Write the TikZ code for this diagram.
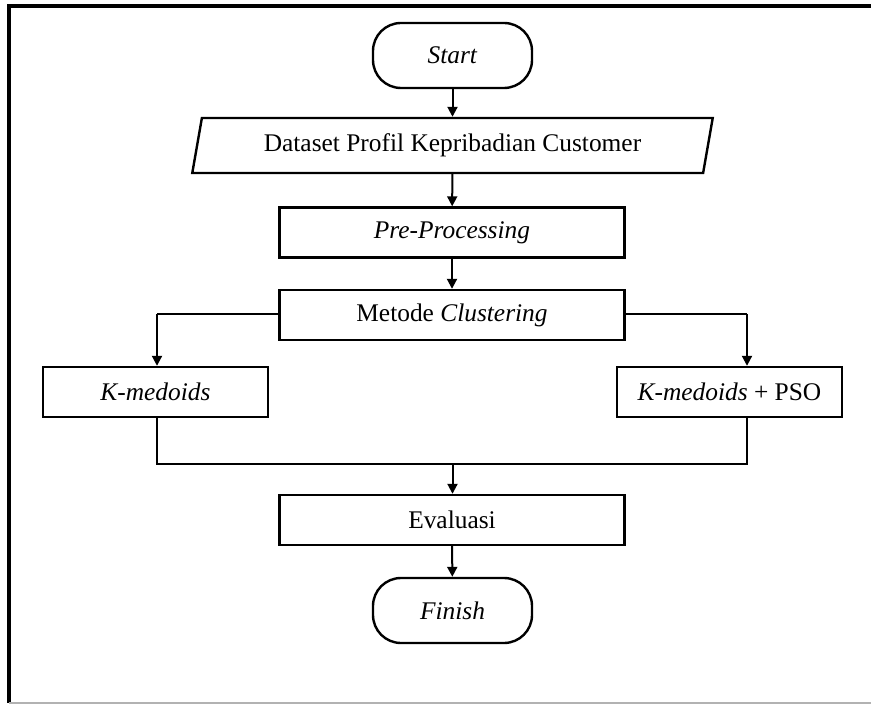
\documentclass[tikz,border=0pt]{standalone}
\usepackage{fontspec}
\setmainfont{Liberation Serif}
\usetikzlibrary{shapes.geometric,arrows.meta}
\begin{document}
\begin{tikzpicture}[x=0.5pt, y=-0.5pt, line width=1pt,
    >={Triangle[length=5pt,width=5pt]},
    font=\fontsize{12.7}{15}\selectfont,
    term/.style={draw, line width=1.2pt, rounded corners=14pt,
      minimum width=79.5pt, minimum height=32.5pt, inner sep=1pt},
    proc/.style={draw, line width=1.2pt, minimum width=172.5pt,
      minimum height=25pt, inner sep=1pt},
    side/.style={proc, minimum width=112.5pt},
    data/.style={draw, line width=1.2pt, trapezium, trapezium stretches,
      trapezium left angle=75, trapezium right angle=105,
      minimum width=261pt, minimum height=27.5pt, inner sep=1pt}]
  \useasboundingbox (0,0) rectangle (871,704);
  % frame
  \draw[line width=1.6pt] (871,6) -- (9,6) -- (9,703);
  \draw[line width=0.8pt, black!30] (9,703) -- (871,703);
  % nodes
  \node[term] (start) at (452.5,55.5) {\textit{Start}};
  \node[data] (dataset) at (452.5,145.5) {Dataset Profil Kepribadian Customer};
  \node[proc] (prepro) at (452,232.5) {\textit{Pre-Processing}};
  \node[proc] (metode) at (452,315) {Metode \textit{Clustering}};
  \node[side] (kmed) at (155.5,392) {\textit{K-medoids}};
  \node[side] (kmpso) at (729.5,392) {\textit{K-medoids} + PSO};
  \node[proc] (eval) at (452,520) {Evaluasi};
  \node[term] (finish) at (452.5,610.5) {\textit{Finish}};
  % branch points
  \coordinate (bl) at (157,314);
  \coordinate (br) at (747,314);
  \coordinate (jl) at (157,464);
  \coordinate (jr) at (747,464);
  \coordinate (jm) at (452.5,464);
  % connectors
  \draw[->] (start) -- (dataset);
  \draw[->] (dataset) -- (prepro);
  \draw[->] (prepro) -- (metode);
  \draw (metode.west |- bl) -- (bl);
  \draw[->] (bl) -- (bl |- kmed.north);
  \draw (metode.east |- br) -- (br);
  \draw[->] (br) -- (br |- kmpso.north);
  \draw (jl |- kmed.south) -- (jl) -- (jr) -- (jr |- kmpso.south);
  \draw[->] (jm) -- (jm |- eval.north);
  \draw[->] (eval) -- (finish);
\end{tikzpicture}
\end{document}
